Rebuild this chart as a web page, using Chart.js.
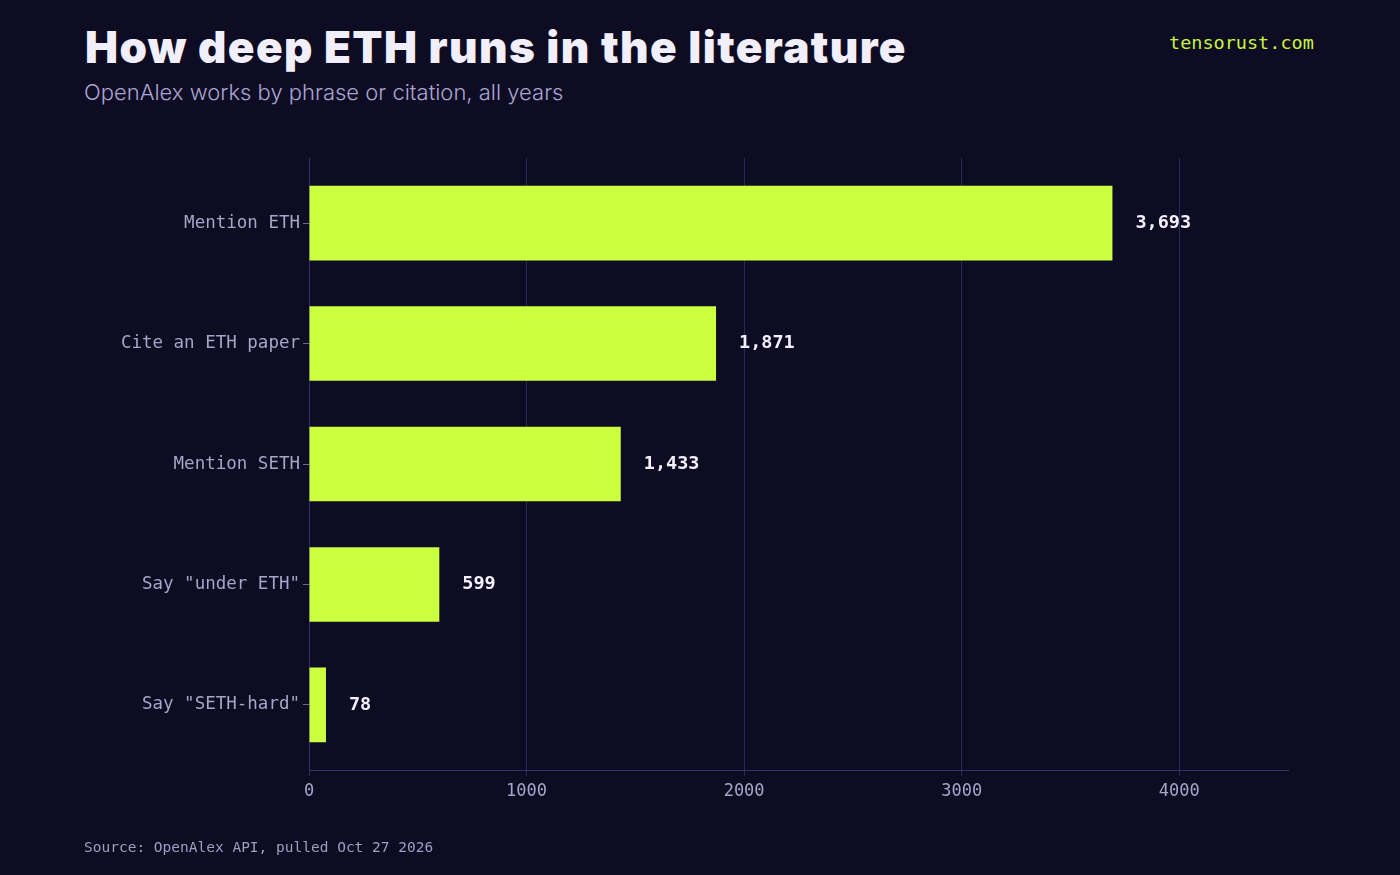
<!DOCTYPE html>
<html>
<head>
<meta charset="utf-8">
<script src="https://cdn.jsdelivr.net/npm/chart.js@4.4.1/dist/chart.umd.min.js"></script>
<style>
  html, body { margin: 0; padding: 0; background: #0e0c22; }
  body { width: 1400px; height: 875px; position: relative; overflow: hidden; }
  #wrap { position: absolute; left: 0; top: 0; width: 1400px; height: 875px; }
  .title { position: absolute; left: 85px; top: 20px; font-family: Inter, "DejaVu Sans", sans-serif; font-weight: 900; font-size: 44px; color: #f1effb; letter-spacing: 1.4px; white-space: nowrap; }
  .sub { position: absolute; left: 84px; top: 79px; font-family: Inter, "Noto Sans", sans-serif; font-weight: 300; font-size: 22px; color: #aaa4d2; white-space: nowrap; }
  .brand { position: absolute; left: 1169px; top: 32px; font-family: "DejaVu Sans Mono", monospace; font-size: 18.5px; color: #c8f53f; white-space: nowrap; }
  .src { position: absolute; left: 84px; top: 839px; font-family: "DejaVu Sans Mono", monospace; font-size: 14.5px; color: #a19dc2; white-space: nowrap; }
</style>
</head>
<body>
<div class="title">How deep ETH runs in the literature</div>
<div class="sub">OpenAlex works by phrase or citation, all years</div>
<div class="brand">tensorust.com</div>
<div id="wrap"><canvas id="myChart"></canvas></div>
<div class="src">Source: OpenAlex API, pulled Oct 27 2026</div>
<script>
// data
const categories = ['Mention ETH', 'Cite an ETH paper', 'Mention SETH', 'Say "under ETH"', 'Say "SETH-hard"'];
const works = [3693, 1871, 1433, 599, 78];
const xTicks = [0, 1000, 2000, 3000, 4000];

const gridColor = '#2a285a';
const tickColor = '#a8a4c9';
const mono = '"DejaVu Sans Mono", monospace';

// draw the number at the end of each bar
const valueLabels = {
  id: 'valueLabels',
  afterDatasetsDraw(chart) {
    const ctx = chart.ctx;
    const meta = chart.getDatasetMeta(0);
    ctx.save();
    ctx.font = 'bold 18.5px ' + mono;
    ctx.fillStyle = '#f3f1ff';
    ctx.textBaseline = 'middle';
    meta.data.forEach(function(bar, i) {
      ctx.fillText(works[i].toLocaleString('en-US'), bar.x + 23, bar.y);
    });
    ctx.restore();
  }
};

window.onload = function() {
  new Chart(document.getElementById('myChart'), {
    type: 'bar',
    data: {
      labels: categories,
      datasets: [{
        data: works,
        backgroundColor: '#ccff40',
        borderWidth: 0,
        categoryPercentage: 1,
        barPercentage: 0.62
      }]
    },
    options: {
      indexAxis: 'y',
      responsive: true,
      maintainAspectRatio: false,
      animation: false,
      layout: { padding: { left: 0, right: 112, top: 158, bottom: 0 } },
      plugins: { legend: { display: false }, tooltip: { enabled: false } },
      scales: {
        x: {
          min: 0,
          max: 4500,
          afterBuildTicks: function(scale) { scale.ticks = xTicks.map(function(v) { return { value: v }; }); },
          afterFit: function(scale) { scale.height = 105; },
          grid: { color: gridColor, lineWidth: 1, tickLength: 6, drawTicks: true },
          border: { color: '#34326a' },
          ticks: { color: tickColor, font: { family: mono, size: 17 }, padding: 5, maxRotation: 0,
                   callback: function(v) { return String(v); } }
        },
        y: {
          // a little extra room above the first and below the last bar
          afterBuildTicks: function(scale) {
            scale._startValue -= 0.04;
            scale._valueRange += 0.08;
          },
          afterFit: function(scale) { scale.width = 309; },
          grid: { drawOnChartArea: false, offset: false, color: '#6a66a0', tickLength: 6 },
          border: { color: '#34326a' },
          ticks: { color: tickColor, font: { family: mono, size: 17.5 }, padding: 3 }
        }
      }
    },
    plugins: [valueLabels]
  });
};
</script>
</body>
</html>
